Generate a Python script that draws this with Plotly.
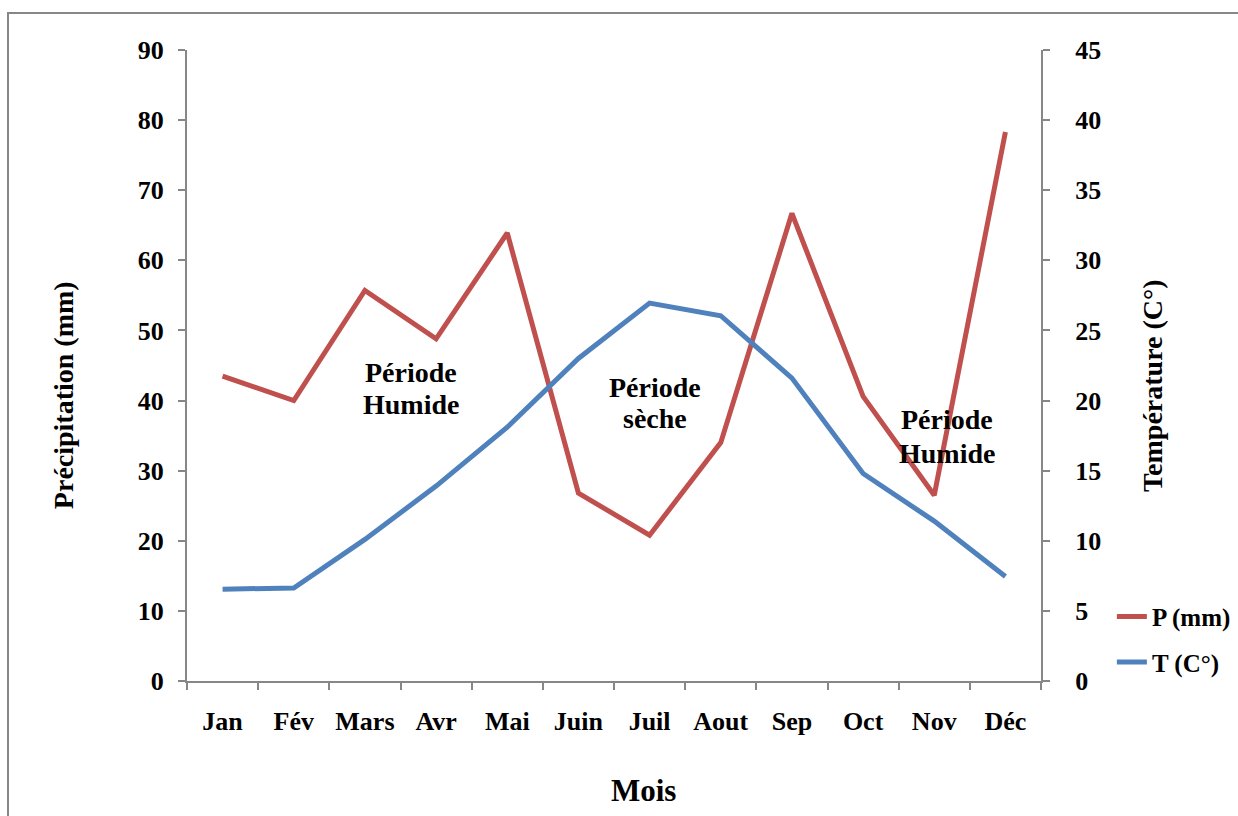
import plotly.graph_objects as go

months = ["Jan", "Fév", "Mars", "Avr", "Mai", "Juin", "Juil", "Aout", "Sep", "Oct", "Nov", "Déc"]
precip_mm = [43.5, 40.0, 55.7, 48.8, 63.9, 26.8, 20.8, 34.0, 66.7, 40.6, 26.5, 78.3]
temp_c = [6.55, 6.63, 10.1, 13.9, 18.1, 23.0, 26.95, 26.05, 21.6, 14.8, 11.4, 7.45]

FONT = "Liberation Serif, Times New Roman, serif"
GRAY = "#878787"
RED = "#C0504D"
BLUE = "#4F81BD"

fig = go.Figure()
fig.add_trace(go.Scatter(x=months, y=precip_mm, name="<b>P (mm)</b>", mode="lines",
                         line=dict(color=RED, width=5), yaxis="y", legendgroup="p"))
fig.add_trace(go.Scatter(x=months, y=temp_c, name="<b>T (C°)</b>", mode="lines",
                         line=dict(color=BLUE, width=5), yaxis="y2", legendgroup="t"))

tickfont = dict(family=FONT, size=26, color="black", weight="bold")

fig.update_layout(
    width=1238, height=816,
    margin=dict(l=187, r=197, t=50, b=135, autoexpand=False),
    paper_bgcolor="white", plot_bgcolor="white",
    font=dict(family=FONT, color="black"),
    xaxis=dict(type="category", range=[-0.5, 11.5], tickson="boundaries", ticks="outside",
               ticklen=7, tickcolor=GRAY, tickwidth=2, showline=True, linecolor=GRAY,
               linewidth=2, showgrid=False, zeroline=False, tickfont=tickfont,
               ticklabelstandoff=16),
    yaxis=dict(range=[0, 90], dtick=10, ticks="outside", ticklen=7, tickcolor=GRAY,
               tickwidth=2, showline=True, linecolor=GRAY, linewidth=2, showgrid=False,
               zeroline=False, tickfont=tickfont, ticklabelstandoff=9),
    yaxis2=dict(range=[0, 45], dtick=5, overlaying="y", side="right", ticks="outside",
                ticklen=7, tickcolor=GRAY, tickwidth=2, showline=True, linecolor=GRAY,
                linewidth=2, showgrid=False, zeroline=False, tickfont=tickfont,
                ticklabelstandoff=20),
    showlegend=True,
    legend=dict(x=1.083, y=0.066, xanchor="left", yanchor="middle",
                font=dict(family=FONT, size=25, color="black"),
                traceorder="grouped", tracegroupgap=10, bgcolor="rgba(0,0,0,0)",
                itemwidth=30),
)

ann_font = dict(family=FONT, size=28, color="black", weight="bold")
labels = [
    (2.648, 44.07, "Période"), (2.648, 39.37, "Humide"),
    (6.076, 41.93, "Période"), (6.076, 37.37, "sèche"),
    (10.186, 37.23, "Période"), (10.186, 32.52, "Humide"),
]
for lx, ly, txt in labels:
    fig.add_annotation(x=lx, y=ly, xref="x", yref="y", text=txt, showarrow=False,
                       font=ann_font, xanchor="center", yanchor="middle")

# axis titles
fig.add_annotation(x=-0.1452, y=0.453, xref="paper", yref="paper", text="<b>Précipitation (mm)</b>",
                   textangle=-90, showarrow=False, xanchor="center", yanchor="middle",
                   font=dict(family=FONT, size=28, color="black"))
fig.add_annotation(x=1.130, y=0.4675, xref="paper", yref="paper", text="<b>Température (C°)</b>",
                   textangle=-90, showarrow=False, xanchor="center", yanchor="middle",
                   font=dict(family=FONT, size=28, color="black"))
fig.add_annotation(x=0.534, y=-0.1743, xref="paper", yref="paper", text="<b>Mois</b>",
                   showarrow=False, xanchor="center", yanchor="middle",
                   font=dict(family=FONT, size=31, color="black"))

# outer chart border
fig.add_shape(type="rect", xref="paper", yref="paper",
              x0=-0.2096, x1=1.25, y0=-0.25, y1=1.0586,
              line=dict(color=GRAY, width=2), fillcolor="rgba(0,0,0,0)", layer="below")

fig.write_html(
    "out.html",
    config={"responsive": False, "displayModeBar": False},
    post_script="document.body.style.margin='0';document.body.style.overflow='hidden';",
)
